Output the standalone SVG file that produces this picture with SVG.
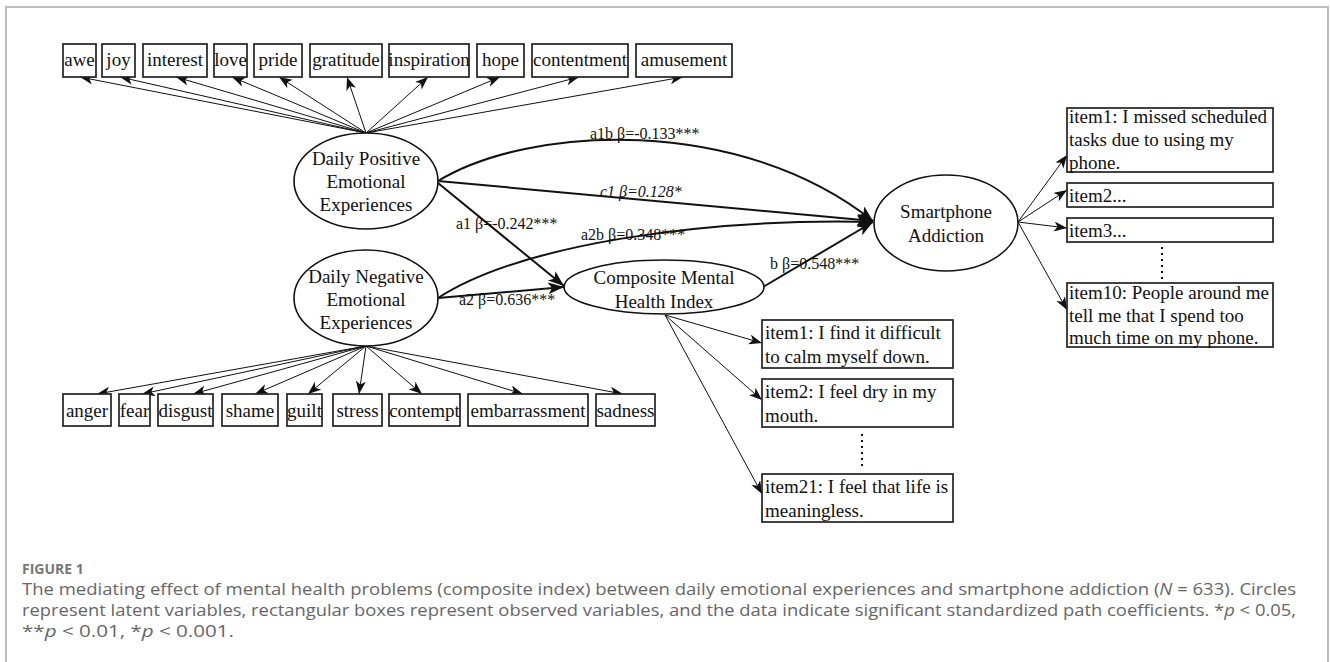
<svg xmlns="http://www.w3.org/2000/svg" width="1330" height="662" viewBox="0 0 1330 662">
<style>
.bx{fill:#fff;stroke:#222;stroke-width:1.7}
.el{fill:#fff;stroke:#111;stroke-width:1.6}
.t{font-family:"Liberation Serif","Times New Roman",serif;font-size:19px;fill:#111}
.c{text-anchor:middle}
.lb{font-family:"Liberation Serif","Times New Roman",serif;font-size:16px;fill:#111}
.th{fill:none;stroke:#111;stroke-width:1}
.tk{fill:none;stroke:#111;stroke-width:2}
.dot{fill:none;stroke:#111;stroke-width:2;stroke-dasharray:2 4}
.cap{font-family:"Open Sans","Noto Sans",sans-serif;font-size:17px;fill:#666}
.fig{font-family:"Open Sans","Noto Sans",sans-serif;font-size:14px;font-weight:bold;fill:#777}
</style>
<defs>
<marker id="big" markerUnits="userSpaceOnUse" markerWidth="18" markerHeight="14" refX="16" refY="6" orient="auto">
<path d="M0,0 L16,6 L0,12 L4,6 z" fill="#111"/>
</marker>
<marker id="sm" markerUnits="userSpaceOnUse" markerWidth="15" markerHeight="11" refX="13" refY="5" orient="auto">
<path d="M0,0 L13,5 L0,10 L3.5,5 z" fill="#111"/>
</marker>
</defs>
<rect width="1330" height="662" fill="#fff"/>
<rect x="6" y="7" width="1322" height="700" fill="none" stroke="#bdbdbd" stroke-width="2"/>

<g id="connectors">
<g class="th" marker-end="url(#sm)">
<path d="M366,133 L80,77"/>
<path d="M366,133 L120,77"/>
<path d="M366,133 L176,77"/>
<path d="M366,133 L232,77"/>
<path d="M366,133 L279,77"/>
<path d="M366,133 L347,77"/>
<path d="M366,133 L428,77"/>
<path d="M366,133 L500,77"/>
<path d="M366,133 L579,77"/>
<path d="M366,133 L683,77"/>
<path d="M366,346 L97,394"/>
<path d="M366,346 L142,394"/>
<path d="M366,346 L193,394"/>
<path d="M366,346 L255,394"/>
<path d="M366,346 L308,394"/>
<path d="M366,346 L359,394"/>
<path d="M366,346 L422,394"/>
<path d="M366,346 L523,394"/>
<path d="M366,346 L623,394"/>
<path d="M665,315 L762,343"/>
<path d="M665,315 L762,400"/>
<path d="M665,315 L762,494"/>
<path d="M1018,222 L1067,155"/>
<path d="M1018,222 L1067,190"/>
<path d="M1018,222 L1067,228"/>
<path d="M1018,222 L1067,310"/>
</g>
<g class="tk" marker-end="url(#big)">
<path d="M438,181 C530,125 740,115 873,221"/>
<path d="M438,181 L873,221"/>
<path d="M438,183 L564,286"/>
<path d="M438,298 C520,245 700,218 873,222"/>
<path d="M438,298 L564,287"/>
<path d="M763,287 L873,222"/>
</g>
<path class="dot" d="M1162,247 L1162,282"/>
<path class="dot" d="M862,434 L862,468"/>
<text class="lb" x="590" y="139">a1b β=-0.133***</text>
<text class="lb" x="600" y="197" font-style="italic">c1 β=0.128*</text>
<text class="lb" x="456" y="229">a1 β=-0.242***</text>
<text class="lb" x="581" y="240">a2b β=0.348***</text>
<text class="lb" x="459" y="305">a2 β=0.636***</text>
<text class="lb" x="770" y="269">b β=0.548***</text>
</g>

<g id="n_awe"><rect class="bx" x="63" y="44" width="33" height="33"/><text class="t c" x="79.5" y="66">awe</text></g>
<g id="n_joy"><rect class="bx" x="102" y="44" width="33" height="33"/><text class="t c" x="118.5" y="66">joy</text></g>
<g id="n_interest"><rect class="bx" x="143" y="44" width="64" height="33"/><text class="t c" x="175" y="66">interest</text></g>
<g id="n_love"><rect class="bx" x="214" y="44" width="33" height="33"/><text class="t c" x="230.5" y="66">love</text></g>
<g id="n_pride"><rect class="bx" x="254" y="44" width="48" height="33"/><text class="t c" x="278" y="66">pride</text></g>
<g id="n_gratitude"><rect class="bx" x="310" y="44" width="72" height="33"/><text class="t c" x="346" y="66">gratitude</text></g>
<g id="n_inspiration"><rect class="bx" x="389" y="44" width="80" height="33"/><text class="t c" x="429" y="66">inspiration</text></g>
<g id="n_hope"><rect class="bx" x="477" y="44" width="47" height="33"/><text class="t c" x="500.5" y="66">hope</text></g>
<g id="n_contentment"><rect class="bx" x="532" y="44" width="96" height="33"/><text class="t c" x="580" y="66">contentment</text></g>
<g id="n_amusement"><rect class="bx" x="636" y="44" width="96" height="33"/><text class="t c" x="684" y="66">amusement</text></g>

<g id="n_anger"><rect class="bx" x="63" y="394" width="48" height="32"/><text class="t c" x="87" y="417">anger</text></g>
<g id="n_fear"><rect class="bx" x="119" y="394" width="31" height="32"/><text class="t c" x="134.5" y="417">fear</text></g>
<g id="n_disgust"><rect class="bx" x="158" y="394" width="55" height="32"/><text class="t c" x="185.5" y="417">disgust</text></g>
<g id="n_shame"><rect class="bx" x="222" y="394" width="56" height="32"/><text class="t c" x="250" y="417">shame</text></g>
<g id="n_guilt"><rect class="bx" x="287" y="394" width="35" height="32"/><text class="t c" x="304.5" y="417">guilt</text></g>
<g id="n_stress"><rect class="bx" x="333" y="394" width="49" height="32"/><text class="t c" x="357.5" y="417">stress</text></g>
<g id="n_contempt"><rect class="bx" x="389" y="394" width="71" height="32"/><text class="t c" x="424.5" y="417">contempt</text></g>
<g id="n_embarrassment"><rect class="bx" x="468" y="394" width="120" height="32"/><text class="t c" x="528" y="417">embarrassment</text></g>
<g id="n_sadness"><rect class="bx" x="596" y="394" width="59" height="32"/><text class="t c" x="625.5" y="417">sadness</text></g>

<g id="n_positive"><ellipse class="el" cx="366" cy="181" rx="72" ry="48"/>
<text class="t c" x="366" y="165">Daily Positive</text><text class="t c" x="366" y="188">Emotional</text><text class="t c" x="366" y="211">Experiences</text></g>
<g id="n_negative"><ellipse class="el" cx="366" cy="298" rx="72" ry="48"/>
<text class="t c" x="366" y="283">Daily Negative</text><text class="t c" x="366" y="306">Emotional</text><text class="t c" x="366" y="329">Experiences</text></g>
<g id="n_composite"><ellipse class="el" cx="664" cy="287" rx="100" ry="27"/>
<text class="t c" x="664" y="284">Composite Mental</text><text class="t c" x="664" y="308">Health Index</text></g>
<g id="n_smartphone"><ellipse class="el" cx="946" cy="223" rx="72" ry="48"/>
<text class="t c" x="946" y="218">Smartphone</text><text class="t c" x="946" y="242">Addiction</text></g>

<g id="n_m1"><rect class="bx" x="762" y="320" width="191" height="48"/><text class="t" x="765" y="339">item1: I find it difficult</text><text class="t" x="765" y="363">to calm myself down.</text></g>
<g id="n_m2"><rect class="bx" x="762" y="379" width="191" height="48"/><text class="t" x="765" y="398">item2: I feel dry in my</text><text class="t" x="765" y="422">mouth.</text></g>
<g id="n_m21"><rect class="bx" x="762" y="474" width="191" height="48"/><text class="t" x="765" y="493">item21: I feel that life is</text><text class="t" x="765" y="517">meaningless.</text></g>

<g id="n_s1"><rect class="bx" x="1067" y="108" width="206" height="64"/><text class="t" x="1069" y="123">item1: I missed scheduled</text><text class="t" x="1069" y="146">tasks due to using my</text><text class="t" x="1069" y="169">phone.</text></g>
<g id="n_s2"><rect class="bx" x="1067" y="183" width="206" height="24"/><text class="t" x="1069" y="202">item2...</text></g>
<g id="n_s3"><rect class="bx" x="1067" y="218" width="206" height="24"/><text class="t" x="1069" y="237">item3...</text></g>
<g id="n_s10"><rect class="bx" x="1067" y="283" width="206" height="64"/><text class="t" x="1069" y="299">item10: People around me</text><text class="t" x="1069" y="322">tell me that I spend too</text><text class="t" x="1069" y="344">much time on my phone.</text></g>

<g id="caption">
<text class="fig" x="22" y="574">FIGURE 1</text>
<text class="cap" x="22" y="595" textLength="1274" lengthAdjust="spacingAndGlyphs">The mediating effect of mental health problems (composite index) between daily emotional experiences and smartphone addiction (<tspan font-style="italic">N</tspan> = 633). Circles</text>
<text class="cap" x="22" y="616" textLength="1274" lengthAdjust="spacingAndGlyphs">represent latent variables, rectangular boxes represent observed variables, and the data indicate significant standardized path coefficients. *<tspan font-style="italic">p</tspan> &lt; 0.05,</text>
<text class="cap" x="22" y="637" textLength="212" lengthAdjust="spacingAndGlyphs">**<tspan font-style="italic">p</tspan> &lt; 0.01, *<tspan font-style="italic">p</tspan> &lt; 0.001.</text>
</g>
</svg>
